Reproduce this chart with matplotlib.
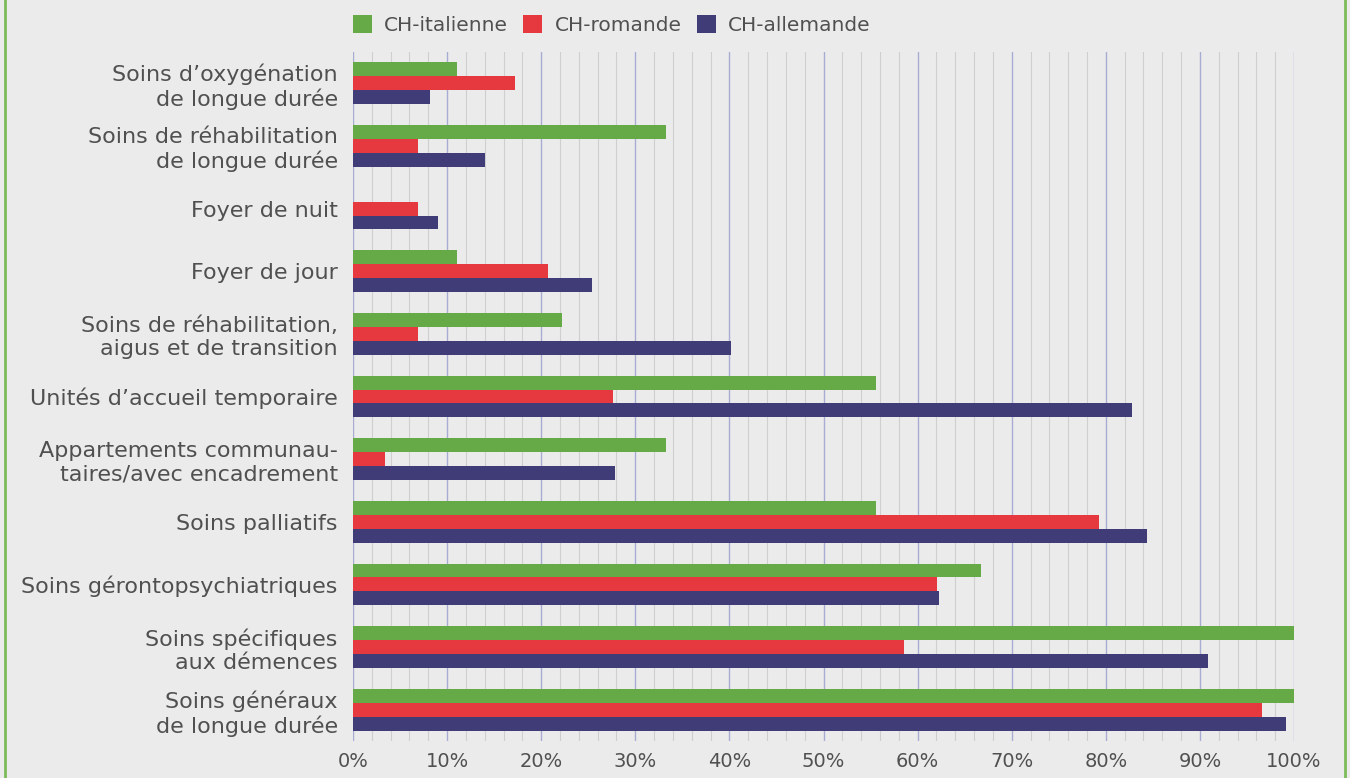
import numpy as np
import matplotlib
matplotlib.use("Agg")
import matplotlib.pyplot as plt
from matplotlib.lines import Line2D
from matplotlib.ticker import MultipleLocator, FuncFormatter

# categories top to bottom
categories = [
    "Soins d\u2019oxyg\u00e9nation\nde longue dur\u00e9e",
    "Soins de r\u00e9habilitation\nde longue dur\u00e9e",
    "Foyer de nuit",
    "Foyer de jour",
    "Soins de r\u00e9habilitation,\naigus et de transition",
    "Unit\u00e9s d\u2019accueil temporaire",
    "Appartements communau-\ntaires/avec encadrement",
    "Soins palliatifs",
    "Soins g\u00e9rontopsychiatriques",
    "Soins sp\u00e9cifiques\naux d\u00e9mences",
    "Soins g\u00e9n\u00e9raux\nde longue dur\u00e9e",
]
ch_italienne = [11.1, 33.3, 0, 11.1, 22.2, 55.6, 33.3, 55.6, 66.7, 100, 100]
ch_romande = [17.2, 6.9, 6.9, 20.7, 6.9, 27.6, 3.4, 79.3, 62.1, 58.6, 96.6]
ch_allemande = [8.2, 14.0, 9.0, 25.4, 40.2, 82.8, 27.8, 84.4, 62.3, 90.9, 99.1]
series_names = ["CH-italienne", "CH-romande", "CH-allemande"]

colors = ["#66aa48", "#e5393f", "#3f3c78"]
text_color = "#505050"
bg = "#ebebeb"

plt.rcParams["font.family"] = ["DejaVu Sans"]

fig = plt.figure(figsize=(13.5, 7.78), dpi=100, facecolor=bg)
ax = fig.add_axes([353 / 1350, 1 - 741 / 778, (1294 - 353) / 1350, (741 - 52) / 778])
ax.set_facecolor(bg)

n = len(categories)
y = np.arange(n)[::-1].astype(float)
h = 0.222
handles = []
for i, vals in enumerate([ch_italienne, ch_romande, ch_allemande]):
    b = ax.barh(y + h * (1 - i), vals, height=h, color=colors[i], zorder=3)
    handles.append(b)

ax.set_xlim(0, 100)
ax.set_ylim(-0.5, n - 0.5)
ax.set_yticks(y)
ax.set_yticklabels(categories, fontsize=16, color=text_color, linespacing=1.2)
ax.tick_params(axis="y", length=0, pad=11)

ax.xaxis.set_major_locator(MultipleLocator(10))
ax.xaxis.set_minor_locator(MultipleLocator(2))
ax.xaxis.set_major_formatter(FuncFormatter(lambda v, p: "%d%%" % v))
ax.tick_params(axis="x", which="major", length=0, pad=8, labelsize=14, labelcolor=text_color)
ax.tick_params(axis="x", which="minor", length=0)
ax.grid(axis="x", which="major", color="#a9acd2", linewidth=1.0, zorder=1)
ax.grid(axis="x", which="minor", color="#cfcfcf", linewidth=0.8, zorder=1)
for s in ax.spines.values():
    s.set_visible(False)

leg = ax.legend(handles, series_names, loc="center left", bbox_to_anchor=(0, 1 + 27 / 689),
                ncol=3, frameon=False, fontsize=14.5, handlelength=0.95, handleheight=0.95,
                handletextpad=0.6, columnspacing=0.75, borderaxespad=0, borderpad=0)
for t in leg.get_texts():
    t.set_color(text_color)

# green frame lines at the page edges
fig.add_artist(Line2D([5 / 1350, 5 / 1350], [0, 1], color="#7dbb5a", linewidth=2))
fig.add_artist(Line2D([1345 / 1350, 1345 / 1350], [0, 1], color="#7dbb5a", linewidth=2))

fig.savefig("out.png", dpi=100, facecolor=bg)
